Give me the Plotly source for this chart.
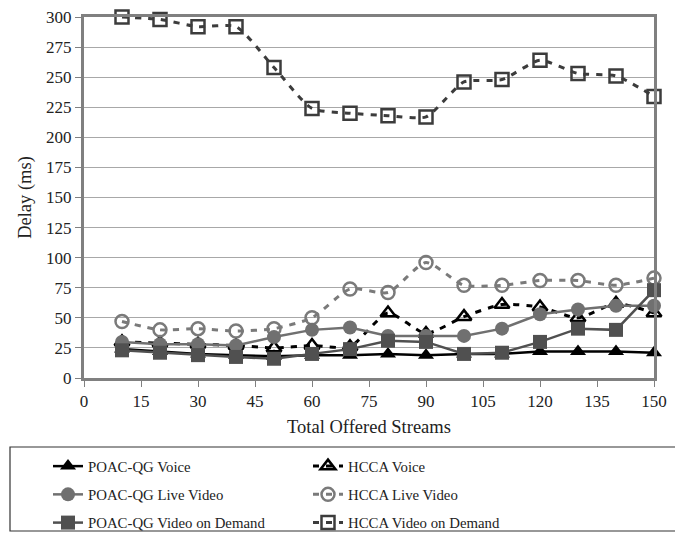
import plotly.graph_objects as go

streams = [10, 20, 30, 40, 50, 60, 70, 80, 90, 100, 110, 120, 130, 140, 150]

poac_voice = [24, 22, 20, 19, 18, 19, 19, 20, 19, 20, 20, 22, 22, 22, 21]
poac_live = [30, 28, 28, 27, 34, 40, 42, 35, 35, 35, 41, 53, 57, 60, 60]
poac_vod = [23, 21, 19, 17.5, 16, 20, 24, 31, 30, 20, 21, 30, 41, 40, 73]
hcca_voice = [30, 29, 28, 27, 25, 27, 26, 54, 37, 51, 61, 59, 50, 62, 54]
hcca_live = [47, 40, 41, 39, 41, 50, 74, 71, 96, 77, 77, 81, 81, 77, 83]
hcca_vod = [300, 298, 292, 292, 258, 224, 220, 218, 217, 246, 248, 264, 253, 251, 234]

x_ticks = [0, 15, 30, 45, 60, 75, 90, 105, 120, 135, 150]
y_ticks = [0, 25, 50, 75, 100, 125, 150, 175, 200, 225, 250, 275, 300]

FONT = "Liberation Serif"

series = [
    dict(name="POAC-QG Voice", y=poac_voice, color="#000000", dash="solid", symbol="triangle-up",
         legend="legend", shape="linear"),
    dict(name="POAC-QG Live Video", y=poac_live, color="#707070", dash="solid", symbol="circle",
         legend="legend", shape="linear"),
    dict(name="POAC-QG Video on Demand", y=poac_vod, color="#505050", dash="solid", symbol="square",
         legend="legend", shape="linear"),
    dict(name="HCCA Voice", y=hcca_voice, color="#000000", dash="6px,7px", symbol="triangle-up-open",
         legend="legend2", shape="spline"),
    dict(name="HCCA Live Video", y=hcca_live, color="#7a7a7a", dash="6px,7px", symbol="circle-open",
         legend="legend2", shape="spline"),
    dict(name="HCCA Video on Demand", y=hcca_vod, color="#3c3c3c", dash="6px,7px", symbol="square-open",
         legend="legend2", shape="spline"),
]

fig = go.Figure()
order = [3, 4, 5, 0, 1, 2]
for i in order:
    s = series[i]
    is_open = s["symbol"].endswith("open")
    fig.add_trace(go.Scatter(
        x=streams, y=s["y"], name=s["name"], mode="lines+markers",
        line=dict(color=s["color"], width=3 if is_open else 2.5, dash=s["dash"],
                  shape=s["shape"], smoothing=0.6 if s["shape"] == "spline" else None),
        marker=dict(symbol=s["symbol"], size=13 if is_open else 14, color=s["color"],
                    line=dict(color=s["color"], width=2.5 if is_open else 0)),
        legend=s["legend"], legendgroup=s["name"], legendrank=i,
        cliponaxis=False,
    ))

# page has an 8px body margin; figure coordinates = page coordinates - 8
W, H = 675, 528
L, T = 76, 9
R = W - 646
B = H - 370
pw, ph = W - L - R, H - T - B

def px2x(p):
    return (p - L) / pw

def px2y(p):
    return (H - B - p) / ph

legend_common = dict(xanchor="left", yanchor="top",
                     orientation="v", tracegroupgap=6, font=dict(size=14.8, family=FONT, color="#222222"),
                     bgcolor="rgba(0,0,0,0)", borderwidth=0, itemwidth=30)

fig.update_layout(
    width=W, height=H,
    margin=dict(l=L, r=R, t=T, b=B, autoexpand=False),
    paper_bgcolor="white", plot_bgcolor="white",
    font=dict(family=FONT, size=17, color="#222222"),
    showlegend=True,
    legend=dict(x=px2x(40), y=px2y(442), **legend_common),
    legend2=dict(x=px2x(300), y=px2y(442), **legend_common),
    xaxis=dict(range=[0, 150], tickvals=x_ticks, ticktext=[str(v) for v in x_ticks],
               showgrid=False, zeroline=False, showline=True, linecolor="#808080", linewidth=3,
               mirror=True, ticks="outside", ticklen=6, tickcolor="#808080", tickwidth=1,
               ticklabeloverflow="allow",
               title=dict(text="Total Offered Streams", font=dict(size=18.5, family=FONT), standoff=10),
               tickfont=dict(size=17, family=FONT)),
    yaxis=dict(range=[0, 300], tickvals=y_ticks, ticktext=[str(v) for v in y_ticks],
               showgrid=True, gridcolor="#a8a8a8", gridwidth=1, zeroline=False,
               showline=True, linecolor="#808080", linewidth=3, mirror=True,
               ticks="outside", ticklen=6, tickcolor="#808080", tickwidth=1,
               ticklabeloverflow="allow",
               title=dict(text="Delay (ms)", font=dict(size=18.5, family=FONT), standoff=10),
               tickfont=dict(size=17, family=FONT)),
    shapes=[dict(type="rect", xref="paper", yref="paper",
                 x0=px2x(2), x1=px2x(668), y0=px2y(523), y1=px2y(439),
                 line=dict(color="#333333", width=1.2), fillcolor="rgba(0,0,0,0)", layer="below")],
)

fig.write_html("out.html")
